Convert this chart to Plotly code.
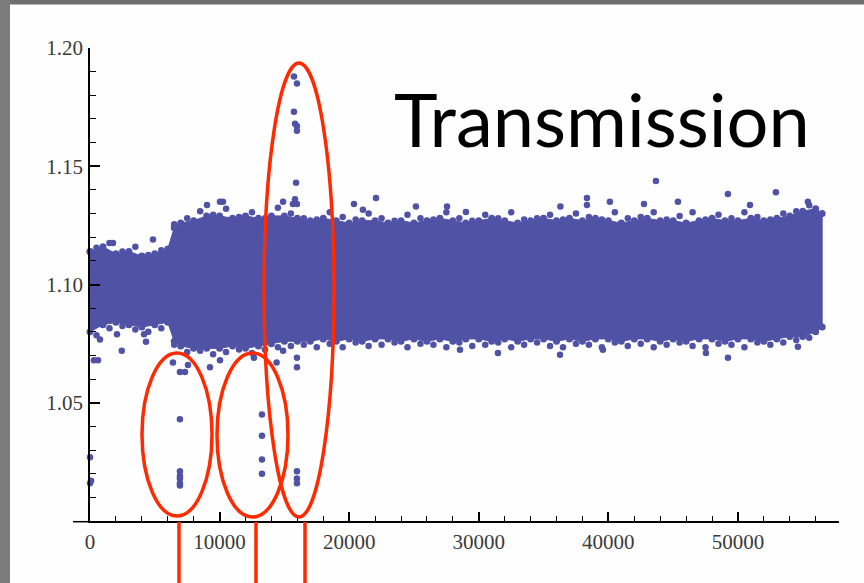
import plotly.graph_objects as go

# ---------------- data ----------------
# envelope of the dense band (dot centres), x in samples
band_x = [0, 1000, 2000, 3000, 4000, 5000, 6000, 6500, 7000, 8000, 9000, 10000,
          11000, 12000, 13000, 14000, 15000, 16000, 17000, 18000, 19000, 20000,
          21000, 22000, 23000, 24000, 25000, 26000, 27000, 28000, 29000, 30000,
          31000, 32000, 33000, 34000, 35000, 36000, 37000, 38000, 39000, 40000,
          41000, 42000, 43000, 44000, 45000, 46000, 47000, 48000, 49000, 50000,
          51000, 52000, 53000, 54000, 55000, 56000, 56500]
band_upper = [1.114, 1.116, 1.113, 1.114, 1.112, 1.113, 1.115, 1.124, 1.126, 1.127, 1.129, 1.129,
              1.128, 1.129, 1.128, 1.129, 1.129, 1.128, 1.127, 1.128, 1.127, 1.126,
              1.127, 1.127, 1.126, 1.127, 1.126, 1.127, 1.128, 1.127, 1.126, 1.127,
              1.128, 1.127, 1.126, 1.127, 1.128, 1.127, 1.128, 1.127, 1.128, 1.127,
              1.126, 1.127, 1.128, 1.127, 1.127, 1.126, 1.127, 1.128, 1.127, 1.127,
              1.128, 1.127, 1.128, 1.129, 1.131, 1.132, 1.130]
band_lower = [1.080, 1.083, 1.084, 1.083, 1.082, 1.083, 1.084, 1.076, 1.074, 1.073, 1.073, 1.073,
              1.074, 1.073, 1.074, 1.075, 1.076, 1.076, 1.076, 1.077, 1.076, 1.077,
              1.076, 1.077, 1.077, 1.076, 1.077, 1.076, 1.077, 1.076, 1.077, 1.077,
              1.076, 1.077, 1.076, 1.077, 1.077, 1.076, 1.077, 1.076, 1.077, 1.077,
              1.076, 1.077, 1.077, 1.076, 1.077, 1.076, 1.077, 1.077, 1.076, 1.077,
              1.077, 1.076, 1.077, 1.078, 1.078, 1.080, 1.082]

# loose dots sitting on the ragged band edges
edge_x = [500, 1500, 2500, 3500, 4500, 5500, 6500, 7500, 8500, 9500, 10500, 11500,
          12500, 13500, 14500, 15500, 16500, 17500, 18500, 19500, 20500, 21500,
          22500, 23500, 24500, 25500, 26500, 27500, 28500, 29500, 30500, 31500,
          32500, 33500, 34500, 35500, 36500, 37500, 38500, 39500, 40500, 41500,
          42500, 43500, 44500, 45500, 46500, 47500, 48500, 49500, 50500, 51500,
          52500, 53500, 54500, 55500]
edge_upper = [1.1155, 1.1175, 1.114, 1.116, 1.1125, 1.1145, 1.1255, 1.128, 1.131, 1.1295, 1.132, 1.1285,
              1.1305, 1.128, 1.1325, 1.130, 1.128, 1.1275, 1.1305, 1.1285, 1.1275, 1.130,
              1.128, 1.127, 1.1295, 1.128, 1.1275, 1.1305, 1.128, 1.127, 1.1295, 1.128,
              1.1305, 1.1275, 1.128, 1.1295, 1.1275, 1.130, 1.1285, 1.1275, 1.1305, 1.128,
              1.1285, 1.1305, 1.1275, 1.129, 1.1305, 1.1275, 1.1295, 1.128, 1.1305, 1.1285,
              1.1275, 1.130, 1.131, 1.1335]
edge_lower = [1.0785, 1.0815, 1.0825, 1.081, 1.080, 1.0815, 1.0745, 1.0715, 1.072, 1.0705, 1.0715, 1.0725,
              1.071, 1.0725, 1.0735, 1.074, 1.0745, 1.0735, 1.075, 1.0735, 1.0755, 1.074,
              1.0745, 1.0755, 1.0735, 1.075, 1.0745, 1.0735, 1.0755, 1.074, 1.0745, 1.0755,
              1.0735, 1.0745, 1.0755, 1.074, 1.0735, 1.075, 1.0745, 1.0735, 1.0755, 1.074,
              1.075, 1.0735, 1.0745, 1.0755, 1.074, 1.0735, 1.075, 1.0745, 1.0735, 1.0755,
              1.0745, 1.0755, 1.0765, 1.0775]

# isolated points outside the band
out_x = [1770, 4860, 9030, 10030, 10260, 14900, 15660,
         15740, 15970, 15740, 15820, 15970, 15970, 15900, 15820, 15970,
         20370, 21060, 22070, 25150, 27550, 29010, 36300, 38350, 38350, 40120,
         42750, 43670, 45370, 49230, 50930, 52930, 55400,
         0, 0, 80, 770, 300, 620, 2450, 2080, 4320, 4170,
         6400, 6940, 7330, 7560, 6940, 6940, 6940, 6940, 6940, 6940,
         9260, 10030, 12650, 13270, 13270, 13270, 13270, 14400, 14900,
         15970, 15970, 15970, 15970, 15970,
         28550, 31480, 36270, 39580, 47530, 49230, 54630]
out_y = [1.1176, 1.119, 1.1336, 1.135, 1.135, 1.135, 1.134,
         1.188, 1.185, 1.173, 1.168, 1.167, 1.165, 1.143, 1.136, 1.134,
         1.134, 1.1316, 1.1366, 1.133, 1.133, 1.1307, 1.133, 1.1366, 1.1336, 1.135,
         1.134, 1.1438, 1.135, 1.1383, 1.1336, 1.139, 1.135,
         1.027, 1.016, 1.017, 1.0767, 1.068, 1.068, 1.072, 1.079, 1.0758, 1.079,
         1.067, 1.063, 1.063, 1.066, 1.043, 1.021, 1.019, 1.018, 1.016, 1.015,
         1.065, 1.068, 1.069, 1.045, 1.036, 1.026, 1.020, 1.067, 1.072,
         1.069, 1.065, 1.021, 1.018, 1.016,
         1.0724, 1.071, 1.0703, 1.0724, 1.071, 1.069, 1.0737]

x_tickvals = [0, 10000, 20000, 30000, 40000, 50000]
x_ticktext = ["0", "10000", "20000", "30000", "40000", "50000"]
y_tickvals = [1.05, 1.10, 1.15, 1.20]
y_ticktext = ["1.05", "1.10", "1.15", "1.20"]

# ---------------- layout constants ----------------
W, H = 864, 583
L, R, T, B = 90, 839, 48, 521
X_RANGE = [0, 57800]
Y_RANGE = [1.00, 1.20]
BAND = "#5052a5"
RED = "#ff2a00"


def px(xp):
    return (xp - L) / (R - L)


def py(yp):
    return (B - yp) / (B - T)


fig = go.Figure()

poly_x = band_x + band_x[::-1] + [band_x[0]]
poly_y = band_upper + band_lower[::-1] + [band_upper[0]]
fig.add_trace(go.Scatter(x=poly_x, y=poly_y, mode="lines+markers", fill="toself",
                         fillcolor=BAND, line=dict(color=BAND, width=1),
                         marker=dict(color=BAND, size=7), cliponaxis=False,
                         hoverinfo="skip", showlegend=False))
fig.add_trace(go.Scatter(x=edge_x + edge_x, y=edge_upper + edge_lower, mode="markers",
                         marker=dict(color=BAND, size=6.5), cliponaxis=False,
                         hoverinfo="skip", showlegend=False))
fig.add_trace(go.Scatter(x=out_x, y=out_y, mode="markers",
                         marker=dict(color=BAND, size=6.5), cliponaxis=False,
                         showlegend=False))

shapes = []
# slide frame
shapes.append(dict(type="rect", xref="paper", yref="paper", x0=px(-2), x1=px(W + 2), y0=py(-2), y1=py(4.5),
                   fillcolor="#6e6e6e", line=dict(width=0), layer="above"))
shapes.append(dict(type="rect", xref="paper", yref="paper", x0=px(-2), x1=px(10), y0=py(-2), y1=py(H + 2),
                   fillcolor="#7c7c7c", line=dict(width=0), layer="above"))
# x axis extension to the left of 0
shapes.append(dict(type="line", xref="paper", yref="paper", x0=px(73), x1=px(90), y0=py(B + 0.7), y1=py(B + 0.7),
                   line=dict(color="black", width=1.5)))
# red ellipses
for (x0, x1, y0, y1) in [(142, 212, 353, 516), (217, 288, 353, 517), (264, 334, 63, 517)]:
    shapes.append(dict(type="circle", xref="paper", yref="paper", x0=px(x0), x1=px(x1),
                       y0=py(y1), y1=py(y0), line=dict(color=RED, width=3.5)))
# red vertical markers
for xm in [179, 256, 305]:
    shapes.append(dict(type="line", xref="paper", yref="paper", x0=px(xm), x1=px(xm),
                       y0=py(522), y1=py(H + 2), line=dict(color=RED, width=3.5)))

tickfont = dict(family="Liberation Serif", size=21, color="#3a3a3a")
fig.update_layout(
    width=W, height=H, template="none",
    margin=dict(l=L, r=W - R, t=T, b=H - B, pad=0),
    paper_bgcolor="#fefefe", plot_bgcolor="#fefefe",
    shapes=shapes,
    xaxis=dict(range=X_RANGE, showgrid=False, zeroline=False, showline=True, linecolor="black",
               linewidth=1.5, ticks="inside", ticklen=9, tickwidth=1.5, tickcolor="black",
               tickmode="array", tickvals=x_tickvals, ticktext=x_ticktext, tickfont=tickfont,
               ticklabelstandoff=1,
               minor=dict(tickmode="linear", tick0=0, dtick=2000, ticks="inside", ticklen=5,
                          tickwidth=1.3, tickcolor="black", showgrid=False)),
    yaxis=dict(range=Y_RANGE, showgrid=False, zeroline=False, showline=True, linecolor="black",
               linewidth=1.5, ticks="inside", ticklen=10, tickwidth=1.5, tickcolor="black",
               tickmode="array", tickvals=y_tickvals, ticktext=y_ticktext, tickfont=tickfont,
               ticklabelstandoff=1,
               minor=dict(tickmode="linear", tick0=1.0, dtick=0.01, ticks="inside", ticklen=6,
                          tickwidth=1.3, tickcolor="black", showgrid=False)),
    annotations=[dict(text="Transmission", xref="paper", yref="paper", x=px(392), y=py(118),
                      xanchor="left", yanchor="middle", showarrow=False,
                      font=dict(family="Lato", size=74, color="black"))],
)

fig.write_html("out.html", config={"displayModeBar": False},
               post_script="document.body.style.margin='0';document.body.style.padding='0';")
